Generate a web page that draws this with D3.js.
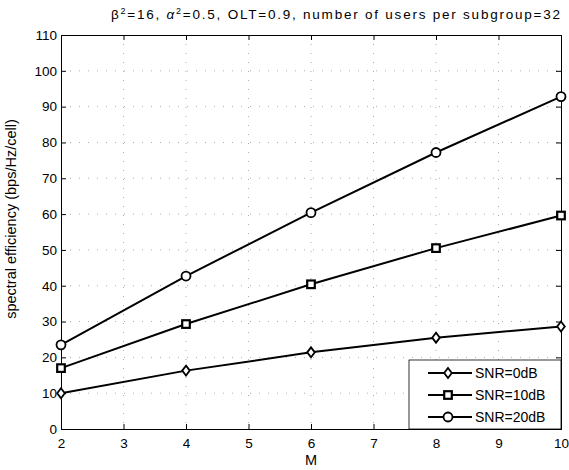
<!DOCTYPE html>
<html>
<head>
<meta charset="utf-8">
<script src="https://cdn.jsdelivr.net/npm/d3@7"></script>
<style>
  body { margin: 0; background: #fff; }
  svg { font-family: "Liberation Sans", Arial, sans-serif; }
</style>
</head>
<body>
<div id="chart"></div>
<script>
// data
const mValues = [2, 4, 6, 8, 10];
const snr0 = [10, 16.3, 21.4, 25.5, 28.6];
const snr10 = [17, 29.3, 40.4, 50.5, 59.6];
const snr20 = [23.5, 42.7, 60.4, 77.2, 92.8];
const seriesNames = ["SNR=0dB", "SNR=10dB", "SNR=20dB"];
const xTicks = [2, 3, 4, 5, 6, 7, 8, 9, 10];
const yTicks = [0, 10, 20, 30, 40, 50, 60, 70, 80, 90, 100, 110];

const series = [
    { name: seriesNames[0], values: snr0, marker: "diamond" },
    { name: seriesNames[1], values: snr10, marker: "square" },
    { name: seriesNames[2], values: snr20, marker: "circle" }
];

const width = 569, height = 470;
const margin = { top: 35, right: 8, bottom: 41, left: 61 };
const innerW = width - margin.left - margin.right;
const innerH = height - margin.top - margin.bottom;

const svg = d3.select("#chart").append("svg")
    .attr("width", width)
    .attr("height", height);

const g = svg.append("g")
    .attr("transform", `translate(${margin.left},${margin.top})`);

const x = d3.scaleLinear().domain([2, 10]).range([0, innerW]);
const y = d3.scaleLinear().domain([0, 110]).range([innerH, 0]);

// dotted grid (matlab style, sparse dots)
g.selectAll(".vgrid")
    .data(xTicks.slice(1, -1))
    .enter().append("line")
    .attr("x1", d => x(d)).attr("x2", d => x(d))
    .attr("y1", 0).attr("y2", innerH)
    .attr("stroke", "#999").attr("stroke-width", 0.8)
    .attr("stroke-dasharray", "1,8");
g.selectAll(".hgrid")
    .data(yTicks.slice(1, -1))
    .enter().append("line")
    .attr("x1", 0).attr("x2", innerW)
    .attr("y1", d => y(d)).attr("y2", d => y(d))
    .attr("stroke", "#999").attr("stroke-width", 0.8)
    .attr("stroke-dasharray", "1,8");

// axes with inward ticks
const xAxis = g.append("g")
    .attr("transform", `translate(0,${innerH})`)
    .call(d3.axisBottom(x).tickValues(xTicks).tickSize(-5).tickPadding(9).tickFormat(d3.format("d")));
const yAxis = g.append("g")
    .call(d3.axisLeft(y).tickValues(yTicks).tickSize(-5).tickPadding(4).tickFormat(d3.format("d")));
const xTop = g.append("g")
    .call(d3.axisTop(x).tickValues(xTicks).tickSize(-5).tickFormat(""));
const yRight = g.append("g")
    .attr("transform", `translate(${innerW},0)`)
    .call(d3.axisRight(y).tickValues(yTicks).tickSize(-5).tickFormat(""));

[xAxis, yAxis, xTop, yRight].forEach(a => {
    a.select(".domain").attr("stroke", "#000").attr("stroke-width", 1);
    a.selectAll(".tick line").attr("stroke", "#000");
    a.selectAll("text").attr("fill", "#000").attr("font-size", 13.5);
});

// lines
const line = d3.line()
    .x((d, i) => x(mValues[i]))
    .y(d => y(d));

g.selectAll(".series")
    .data(series)
    .enter().append("path")
    .attr("d", d => line(d.values))
    .attr("fill", "none")
    .attr("stroke", "#000")
    .attr("stroke-width", 2);

function drawMarker(sel, type, cx, cy) {
    if (type === "diamond") {
        sel.append("path")
            .attr("d", `M${cx},${cy - 5}L${cx + 3.8},${cy}L${cx},${cy + 5}L${cx - 3.8},${cy}Z`)
            .attr("fill", "#fff").attr("stroke", "#000").attr("stroke-width", 1.8);
    } else if (type === "square") {
        sel.append("rect")
            .attr("x", cx - 3.8).attr("y", cy - 3.8)
            .attr("width", 7.6).attr("height", 7.6)
            .attr("fill", "#fff").attr("stroke", "#000").attr("stroke-width", 2.2);
    } else {
        sel.append("circle")
            .attr("cx", cx).attr("cy", cy).attr("r", 4.5)
            .attr("fill", "#fff").attr("stroke", "#000").attr("stroke-width", 1.8);
    }
}

series.forEach(s => {
    s.values.forEach((v, i) => drawMarker(g, s.marker, x(mValues[i]), y(v)));
});

// legend
const legend = g.append("g").attr("transform", `translate(${innerW - 152},${innerH - 69})`);
legend.append("rect")
    .attr("width", 152).attr("height", 69)
    .attr("fill", "#fff").attr("stroke", "#000").attr("stroke-width", 0.8);
series.forEach((s, i) => {
    const ly = 13 + i * 22;
    legend.append("line")
        .attr("x1", 19).attr("x2", 63).attr("y1", ly).attr("y2", ly)
        .attr("stroke", "#000").attr("stroke-width", 2);
    drawMarker(legend, s.marker, 39, ly);
    legend.append("text")
        .attr("x", 66).attr("y", ly)
        .attr("dy", "0.35em")
        .attr("font-size", 14)
        .text(s.name);
});

// titles
const title = svg.append("text")
    .attr("x", 111)
    .attr("y", 19)
    .attr("text-anchor", "start")
    .attr("font-size", 13.5)
    .attr("textLength", 449)
    .attr("lengthAdjust", "spacing");
title.append("tspan").text("\u03B2");
title.append("tspan").attr("font-size", 9).attr("dy", -5).text("2");
title.append("tspan").attr("dy", 5).text("=16, ");
title.append("tspan").attr("font-style", "italic").text("\u03B1");
title.append("tspan").attr("font-size", 9).attr("dy", -5).text("2");
title.append("tspan").attr("dy", 5).text("=0.5, OLT=0.9, number of users per subgroup=32");

svg.append("text")
    .attr("x", margin.left + innerW / 2)
    .attr("y", 465)
    .attr("text-anchor", "middle")
    .attr("font-size", 14.5)
    .text("M");

svg.append("text")
    .attr("transform", "translate(16,219) rotate(-90)")
    .attr("text-anchor", "middle")
    .attr("font-size", 14.5)
    .text("spectral efficiency (bps/Hz/cell)");
</script>
</body>
</html>
